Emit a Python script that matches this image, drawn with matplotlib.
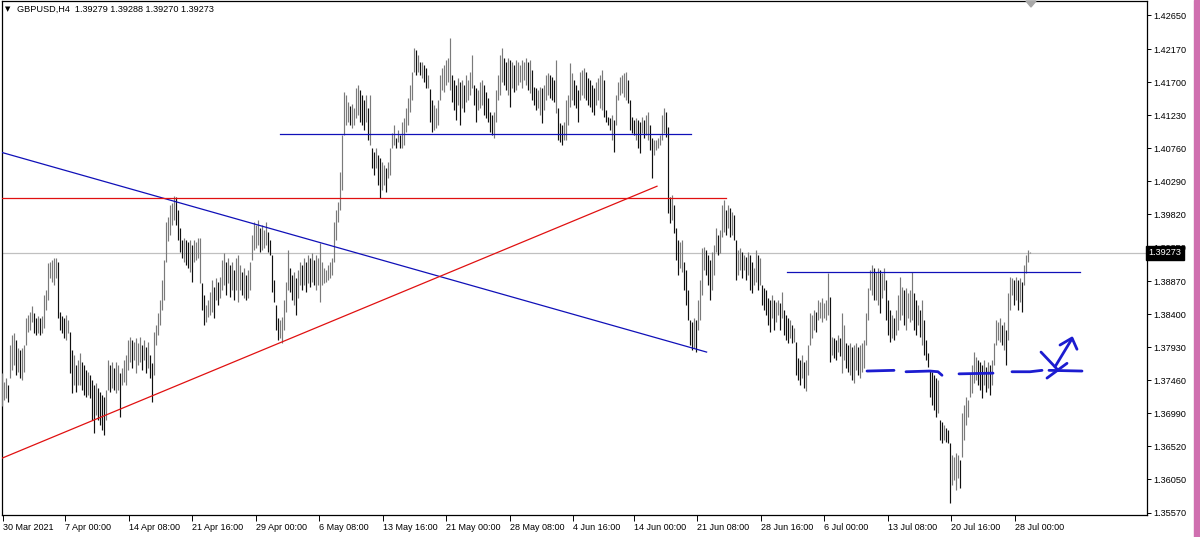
import matplotlib
matplotlib.use("Agg")
import matplotlib.pyplot as plt
import matplotlib.transforms as mtransforms
from matplotlib.patches import Polygon, Rectangle

# GBPUSD H4 bars (high / low), oldest first
highs = [
    1.3756, 1.3743, 1.3749, 1.3739, 1.3796, 1.3810, 1.3813, 1.3803, 1.3792, 1.3789,
    1.3792, 1.3796, 1.3835, 1.3839, 1.3843, 1.3851, 1.3842, 1.3835, 1.3837, 1.3835,
    1.3837, 1.3867, 1.3874, 1.3913, 1.3914, 1.3917, 1.3920, 1.3920, 1.3914, 1.3843,
    1.3837, 1.3835, 1.3839, 1.3832, 1.3815, 1.3789, 1.3782, 1.3768, 1.3775, 1.3785,
    1.3772, 1.3768, 1.3760, 1.3757, 1.3753, 1.3746, 1.3739, 1.3742, 1.3735, 1.3729,
    1.3725, 1.3722, 1.3732, 1.3775, 1.3768, 1.3772, 1.3764, 1.3772, 1.3768, 1.3756,
    1.3764, 1.3775, 1.3782, 1.3803, 1.3807, 1.3803, 1.3800, 1.3806, 1.3799, 1.3807,
    1.3796, 1.3803, 1.3793, 1.3800, 1.3782, 1.3771, 1.3814, 1.3825, 1.3842, 1.3860,
    1.3889, 1.3917, 1.3971, 1.3978, 1.3995, 1.3998, 1.4008, 1.4006, 1.3988, 1.3963,
    1.3945, 1.3948, 1.3945, 1.3942, 1.3945, 1.3938, 1.3945, 1.3942, 1.3948, 1.3948,
    1.3885, 1.3867, 1.3853, 1.3860, 1.3871, 1.3889, 1.3878, 1.3892, 1.3886, 1.3893,
    1.3917, 1.3927, 1.3914, 1.3920, 1.3910, 1.3914, 1.3903, 1.3920, 1.3924, 1.3910,
    1.3900, 1.3906, 1.3896, 1.3903, 1.3914, 1.3953, 1.3971, 1.3967, 1.3974, 1.3963,
    1.3967, 1.3960, 1.3971, 1.3957, 1.3945, 1.3924, 1.3889, 1.3853, 1.3835, 1.3832,
    1.3836, 1.3860, 1.3886, 1.3931, 1.3906, 1.3896, 1.3900, 1.3892, 1.3903, 1.3914,
    1.3910, 1.3920, 1.3914, 1.3924, 1.3920, 1.3927, 1.3917, 1.3924, 1.3920, 1.3941,
    1.3914, 1.3906, 1.3903, 1.3910, 1.3914, 1.3920, 1.3971, 1.3988, 1.3999, 1.4042,
    1.4095, 1.4156, 1.4152, 1.4142, 1.4136, 1.4139, 1.4134, 1.4162, 1.4166, 1.4159,
    1.4152, 1.4145, 1.4152, 1.4134, 1.4152, 1.4077, 1.4071, 1.4077, 1.4067, 1.4062,
    1.4057, 1.4052, 1.4048, 1.4057, 1.4077, 1.4098, 1.4109, 1.4091, 1.4102, 1.4095,
    1.4113, 1.4119, 1.4134, 1.4148, 1.4166, 1.4185, 1.4219, 1.4216, 1.4209, 1.4199,
    1.4199, 1.4195, 1.4190, 1.4180, 1.4160, 1.4145, 1.4138, 1.4134, 1.4145, 1.4180,
    1.4190, 1.4195, 1.4202, 1.4204, 1.4233, 1.4180, 1.4173, 1.4166, 1.4176, 1.4170,
    1.4173, 1.4166, 1.4180, 1.4173, 1.4185, 1.4209, 1.4166, 1.4162, 1.4159, 1.4170,
    1.4173, 1.4166, 1.4156, 1.4148, 1.4128, 1.4123, 1.4128, 1.4159, 1.4180, 1.4209,
    1.4219, 1.4204, 1.4199, 1.4204, 1.4202, 1.4199, 1.4195, 1.4202, 1.4199, 1.4195,
    1.4202, 1.4199, 1.4204, 1.4199, 1.4202, 1.4187, 1.4163, 1.4162, 1.4159, 1.4163,
    1.4162, 1.4166, 1.4180, 1.4183, 1.4180, 1.4177, 1.4173, 1.4202, 1.4133, 1.4112,
    1.4109, 1.4113, 1.4145, 1.4152, 1.4197, 1.4183, 1.4173, 1.4166, 1.4159, 1.4185,
    1.4187, 1.4190, 1.4185, 1.4176, 1.4173, 1.4166, 1.4162, 1.4170, 1.4176, 1.4180,
    1.4187, 1.4173, 1.4130, 1.4120, 1.4119, 1.4123, 1.4116, 1.4152, 1.4170, 1.4177,
    1.4180, 1.4183, 1.4185, 1.4173, 1.4145, 1.4120, 1.4116, 1.4119, 1.4116, 1.4113,
    1.4120, 1.4116, 1.4123, 1.4128, 1.4109, 1.4091, 1.4088, 1.4088, 1.4091, 1.4095,
    1.4123, 1.4133, 1.4128, 1.4106, 1.4007, 1.4010, 1.3995, 1.3963, 1.3945, 1.3942,
    1.3945, 1.3914, 1.3903, 1.3874, 1.3832, 1.3829, 1.3835, 1.3832, 1.3860, 1.3889,
    1.3934, 1.3936, 1.3931, 1.3924, 1.3917, 1.3928, 1.3938, 1.3963, 1.3953, 1.3960,
    1.3995, 1.4002, 1.3988, 1.3995, 1.3991, 1.3985, 1.3981, 1.3945, 1.3931, 1.3934,
    1.3928, 1.3924, 1.3921, 1.3928, 1.3924, 1.3914, 1.3906, 1.3931, 1.3924, 1.3920,
    1.3882, 1.3877, 1.3874, 1.3863, 1.3860, 1.3867, 1.3860, 1.3857, 1.3860, 1.3856,
    1.3871, 1.3846, 1.3839, 1.3835, 1.3832, 1.3825, 1.3820, 1.3800, 1.3778, 1.3775,
    1.3782, 1.3772, 1.3775, 1.3796, 1.3842, 1.3839, 1.3846, 1.3843, 1.3860, 1.3857,
    1.3863, 1.3856, 1.3860, 1.3899, 1.3864, 1.3807, 1.3806, 1.3803, 1.3810, 1.3806,
    1.3842, 1.3825, 1.3799, 1.3796, 1.3799, 1.3793, 1.3796, 1.3799, 1.3793, 1.3796,
    1.3799, 1.3803, 1.3842, 1.3877, 1.3903, 1.3910, 1.3906, 1.3900, 1.3906, 1.3903,
    1.3899, 1.3906, 1.3889, 1.3860, 1.3846, 1.3839, 1.3835, 1.3846, 1.3867, 1.3893,
    1.3878, 1.3874, 1.3877, 1.3870, 1.3874, 1.3900, 1.3870, 1.3860, 1.3853, 1.3846,
    1.3860, 1.3832, 1.3803, 1.3785, 1.3760, 1.3757, 1.3753, 1.3749, 1.3746, 1.3689,
    1.3686, 1.3682, 1.3678, 1.3675, 1.3657, 1.3640, 1.3636, 1.3643, 1.3640, 1.3632,
    1.3699, 1.3711, 1.3722, 1.3718, 1.3756, 1.3768, 1.3786, 1.3779, 1.3775, 1.3772,
    1.3768, 1.3775, 1.3765, 1.3772, 1.3768, 1.3775, 1.3799, 1.3832, 1.3829, 1.3835,
    1.3825, 1.3829, 1.3817, 1.3870, 1.3893, 1.3892, 1.3889, 1.3893, 1.3889, 1.3892,
    1.3886, 1.3910, 1.3924, 1.3931, 1.39288,
]
lows = [
    1.3709, 1.3718, 1.3721, 1.3715, 1.3749, 1.3760, 1.3768, 1.3753, 1.3757, 1.3749,
    1.3746, 1.3757, 1.3796, 1.3814, 1.3817, 1.3829, 1.3813, 1.3810, 1.3813, 1.3811,
    1.3813, 1.3820, 1.3846, 1.3860, 1.3892, 1.3886, 1.3882, 1.3892, 1.3835, 1.3817,
    1.3813, 1.3806, 1.3803, 1.3813, 1.3756, 1.3728, 1.3739, 1.3729, 1.3739, 1.3739,
    1.3732, 1.3725, 1.3722, 1.3725, 1.3721, 1.3689, 1.3671, 1.3696, 1.3689, 1.3682,
    1.3675, 1.3668, 1.3689, 1.3732, 1.3729, 1.3735, 1.3732, 1.3728, 1.3732, 1.3693,
    1.3739, 1.3743, 1.3739, 1.3760, 1.3772, 1.3764, 1.3775, 1.3756, 1.3768, 1.3772,
    1.3760, 1.3775, 1.3756, 1.3764, 1.3749, 1.3715, 1.3753, 1.3796, 1.3810, 1.3825,
    1.3846, 1.3860, 1.3914, 1.3944, 1.3953, 1.3967, 1.3974, 1.3967, 1.3945, 1.3928,
    1.3920, 1.3914, 1.3910, 1.3906, 1.3900, 1.3886, 1.3914, 1.3917, 1.3920, 1.3885,
    1.3846, 1.3825, 1.3829, 1.3836, 1.3839, 1.3843, 1.3835, 1.3860, 1.3853, 1.3863,
    1.3874, 1.3882, 1.3867, 1.3885, 1.3864, 1.3874, 1.3860, 1.3874, 1.3857, 1.3874,
    1.3867, 1.3863, 1.3860, 1.3863, 1.3874, 1.3917, 1.3931, 1.3934, 1.3938, 1.3928,
    1.3931, 1.3934, 1.3938, 1.3928, 1.3924, 1.3871, 1.3857, 1.3817, 1.3803, 1.3806,
    1.3799, 1.3817, 1.3843, 1.3874, 1.3871, 1.3860, 1.3853, 1.3839, 1.3863, 1.3882,
    1.3874, 1.3882, 1.3871, 1.3885, 1.3878, 1.3886, 1.3882, 1.3874, 1.3882, 1.3857,
    1.3882, 1.3885, 1.3886, 1.3889, 1.3892, 1.3896, 1.3914, 1.3945, 1.3971, 1.3988,
    1.4017, 1.4095, 1.4109, 1.4113, 1.4109, 1.4105, 1.4109, 1.4119, 1.4123, 1.4113,
    1.4109, 1.4102, 1.4113, 1.4088, 1.4081, 1.4048, 1.4038, 1.4048, 1.4024, 1.4005,
    1.4017, 1.4024, 1.4014, 1.4034, 1.4038, 1.4077, 1.4081, 1.4077, 1.4085, 1.4077,
    1.4077, 1.4081, 1.4099, 1.4109, 1.4128, 1.4145, 1.4185, 1.4180, 1.4185, 1.4180,
    1.4176, 1.4170, 1.4162, 1.4162, 1.4113, 1.4099, 1.4102, 1.4105, 1.4109, 1.4145,
    1.4159, 1.4156, 1.4166, 1.4170, 1.4159, 1.4142, 1.4130, 1.4116, 1.4138, 1.4109,
    1.4133, 1.4128, 1.4142, 1.4145, 1.4152, 1.4162, 1.4138, 1.4113, 1.4130, 1.4133,
    1.4138, 1.4123, 1.4119, 1.4113, 1.4099, 1.4095, 1.4091, 1.4113, 1.4145, 1.4152,
    1.4170, 1.4166, 1.4159, 1.4152, 1.4135, 1.4162, 1.4156, 1.4159, 1.4166, 1.4170,
    1.4162, 1.4173, 1.4166, 1.4159, 1.4155, 1.4145, 1.4138, 1.4130, 1.4133, 1.4123,
    1.4112, 1.4130, 1.4145, 1.4152, 1.4148, 1.4145, 1.4142, 1.4126, 1.4088, 1.4085,
    1.4081, 1.4088, 1.4088, 1.4109, 1.4135, 1.4145, 1.4138, 1.4133, 1.4113, 1.4145,
    1.4152, 1.4148, 1.4145, 1.4138, 1.4135, 1.4128, 1.4123, 1.4138, 1.4145, 1.4133,
    1.4130, 1.4120, 1.4113, 1.4109, 1.4102, 1.4088, 1.4071, 1.4109, 1.4145, 1.4152,
    1.4155, 1.4149, 1.4145, 1.4140, 1.4102, 1.4098, 1.4095, 1.4088, 1.4077, 1.4069,
    1.4098, 1.4091, 1.4095, 1.4088, 1.4074, 1.4034, 1.4067, 1.4074, 1.4077, 1.4081,
    1.4088, 1.4098, 1.4092, 1.3984, 1.3970, 1.3974, 1.3956, 1.3917, 1.3896, 1.3906,
    1.3900, 1.3874, 1.3853, 1.3832, 1.3796, 1.3789, 1.3792, 1.3786, 1.3817, 1.3832,
    1.3867, 1.3903, 1.3896, 1.3882, 1.3860, 1.3874, 1.3896, 1.3928, 1.3924, 1.3927,
    1.3950, 1.3957, 1.3953, 1.3963, 1.3950, 1.3953, 1.3945, 1.3889, 1.3896, 1.3903,
    1.3892, 1.3903, 1.3889, 1.3896, 1.3874, 1.3870, 1.3882, 1.3886, 1.3874, 1.3882,
    1.3853, 1.3846, 1.3839, 1.3825, 1.3815, 1.3835, 1.3817, 1.3829, 1.3839, 1.3817,
    1.3835, 1.3810, 1.3803, 1.3799, 1.3806, 1.3799, 1.3800, 1.3753, 1.3746, 1.3739,
    1.3749, 1.3735, 1.3731, 1.3753, 1.3796, 1.3806, 1.3817, 1.3814, 1.3832, 1.3835,
    1.3829, 1.3835, 1.3832, 1.3839, 1.3772, 1.3782, 1.3778, 1.3775, 1.3786, 1.3780,
    1.3756, 1.3775, 1.3764, 1.3757, 1.3753, 1.3746, 1.3742, 1.3760, 1.3753, 1.3749,
    1.3757, 1.3764, 1.3796, 1.3832, 1.3874, 1.3867, 1.3860, 1.3860, 1.3853, 1.3842,
    1.3863, 1.3874, 1.3832, 1.3810, 1.3800, 1.3806, 1.3803, 1.3810, 1.3817, 1.3832,
    1.3839, 1.3825, 1.3817, 1.3835, 1.3829, 1.3832, 1.3817, 1.3810, 1.3825, 1.3807,
    1.3796, 1.3782, 1.3775, 1.3765, 1.3722, 1.3711, 1.3704, 1.3693, 1.3699, 1.3661,
    1.3657, 1.3661, 1.3658, 1.3657, 1.3571, 1.3597, 1.3604, 1.3590, 1.3607, 1.3593,
    1.3637, 1.3661, 1.3682, 1.3693, 1.3722, 1.3728, 1.3742, 1.3746, 1.3739, 1.3732,
    1.3721, 1.3739, 1.3729, 1.3735, 1.3725, 1.3739, 1.3768, 1.3796, 1.3803, 1.3800,
    1.3796, 1.3789, 1.3768, 1.3803, 1.3846, 1.3867, 1.3853, 1.3860, 1.3846, 1.3857,
    1.3843, 1.3882, 1.3899, 1.3914, 1.39270,
]

last_price = 1.39273
header = "GBPUSD,H4  1.39279 1.39288 1.39270 1.39273"

price_ticks = [1.42650, 1.42170, 1.41700, 1.41230, 1.40760, 1.40290, 1.39820, 1.39350,
               1.38870, 1.38400, 1.37930, 1.37460, 1.36990, 1.36520, 1.36050, 1.35570]

date_labels = ["30 Mar 2021", "7 Apr 00:00", "14 Apr 08:00", "21 Apr 16:00", "29 Apr 00:00",
               "6 May 08:00", "13 May 16:00", "21 May 00:00", "28 May 08:00", "4 Jun 16:00",
               "14 Jun 00:00", "21 Jun 08:00", "28 Jun 16:00", "6 Jul 00:00", "13 Jul 08:00",
               "20 Jul 16:00", "28 Jul 00:00"]
date_bars = [0.5, 31.5, 63.5, 95, 127, 158.5, 190.5, 222, 254, 285.5, 316, 347.5,
             379.5, 411, 443, 474.5, 506.5]

# drawn objects: (bar1, price1, bar2, price2)
blue_trend = (0, 1.4070, 352.3, 1.3786)
red_trend = (0, 1.3635, 327.5, 1.4022)
red_level = (0, 362, 1.4005)
blue_level_top = (139, 344.5, 1.4096)
blue_level_right = (392.5, 539, 1.3900)

# hand-drawn marks on the right (bar, price)
scribbles = [
    [(432.5, 1.3759), (446, 1.3760)],
    [(452, 1.3758), (464, 1.3759), (468, 1.3758), (470, 1.3753)],
    [(478.5, 1.3755), (495.5, 1.3756)],
    [(505, 1.3758), (514, 1.3758), (520, 1.3760)],
    [(519.5, 1.3786), (526.5, 1.3765), (528, 1.3760)],
    [(522.5, 1.3749), (532.5, 1.3770)],
    [(523.5, 1.3760), (540, 1.3759)],
    [(526.5, 1.3765), (535, 1.3805)],
    [(529, 1.3796), (535, 1.3806), (537.5, 1.3790)],
]

W, H = 1200, 537
FONT = ["Liberation Sans", "DejaVu Sans"]
plt.rcParams["font.family"] = FONT

fig = plt.figure(figsize=(W / 100, H / 100), dpi=100)
fig.patch.set_facecolor("white")
ax = fig.add_axes([2 / W, 22 / H, 1145 / W, 514 / H])
ax.set_xlim(0, 572.5)
ax.set_ylim(1.355415, 1.428558)

# bars: black when the bar sits lower than the one before, grey otherwise
idx = list(range(len(highs)))
cols = ["#7a7a7a"]
for k in range(1, len(highs)):
    down = highs[k] < highs[k - 1] and lows[k] < lows[k - 1]
    cols.append("#101010" if down else "#7a7a7a")
ax.vlines(idx, lows, highs, colors=cols, linewidth=0.85, antialiased=True, zorder=3)

# current price line
ax.axhline(last_price, color="#c0c0c0", linewidth=0.9, zorder=1)

# objects
ax.plot([blue_trend[0], blue_trend[2]], [blue_trend[1], blue_trend[3]], color="#1010b8", lw=0.9, zorder=4)
ax.plot([red_trend[0], red_trend[2]], [red_trend[1], red_trend[3]], color="#e01010", lw=0.9, zorder=4)
ax.plot([red_level[0], red_level[1]], [red_level[2]] * 2, color="#e01010", lw=0.9, zorder=4)
ax.plot([blue_level_top[0], blue_level_top[1]], [blue_level_top[2]] * 2, color="#1010b8", lw=0.9, zorder=4)
ax.plot([blue_level_right[0], blue_level_right[1]], [blue_level_right[2]] * 2, color="#1010b8", lw=0.9, zorder=4)

for s in scribbles:
    ax.plot([p[0] for p in s], [p[1] for p in s], color="#1c1cd0", lw=2.0,
            solid_capstyle="round", solid_joinstyle="round", zorder=5)

# axes frame
for side in ["left", "right", "top", "bottom"]:
    ax.spines[side].set_linewidth(0.9)
    ax.spines[side].set_color("black")

ax.yaxis.tick_right()
ax.set_yticks(price_ticks)
ax.set_yticklabels(["%.5f" % p for p in price_ticks])
ax.tick_params(axis="y", direction="out", length=3, width=0.7, pad=1.5, labelsize=6.6, colors="black")

ax.set_xticks(date_bars)
ax.set_xticklabels(date_labels)
for lab in ax.get_xticklabels():
    lab.set_horizontalalignment("left")
ax.tick_params(axis="x", direction="out", length=4, width=0.7, pad=1.5, labelsize=6.5, colors="black")

# last price box on the scale (covers the 1.39350 label as in the terminal)
trans = mtransforms.blended_transform_factory(ax.transAxes, ax.transData)
ax.text(1.0015, last_price, "1.39273", transform=trans, ha="left", va="center",
        fontsize=6.6, color="white", zorder=10,
        bbox=dict(boxstyle="square,pad=0.25", fc="black", ec="black"))

# header
fig.text(5 / W, 1 - 9.5 / H, "\u25bc", fontsize=5, family="DejaVu Sans", va="center", ha="left")
fig.text(17 / W, 1 - 9.5 / H, header, fontsize=6.6, va="center", ha="left")

# chart shift marker
fig.add_artist(Polygon([(1026 / W, 1 - 1 / H), (1036 / W, 1 - 1 / H), (1031 / W, 1 - 7 / H)],
                       closed=True, transform=fig.transFigure, color="#a8a8a8"))
# right window edge
fig.add_artist(Rectangle((1194 / W, 0), 6 / W, 1, transform=fig.transFigure, color="#d070b0"))

fig.savefig("out.png", dpi=100)
